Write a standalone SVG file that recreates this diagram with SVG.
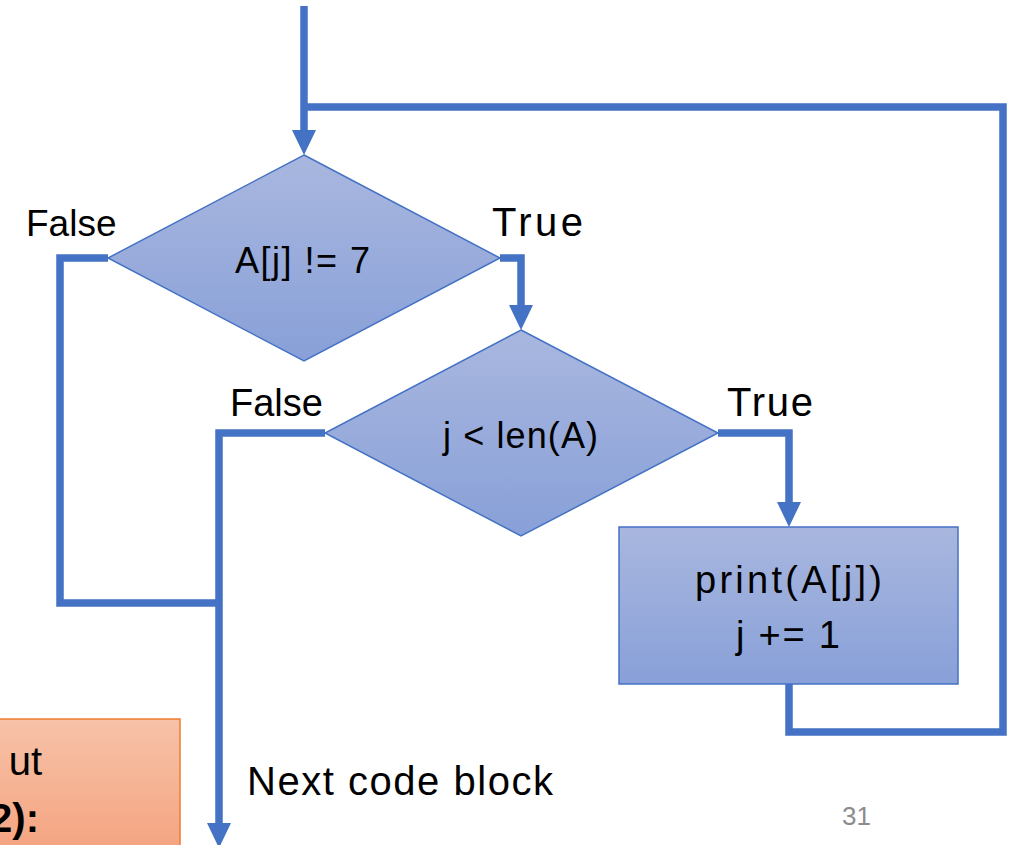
<svg xmlns="http://www.w3.org/2000/svg" width="1012" height="845" viewBox="0 0 1012 845">
<defs>
<linearGradient id="blueGrad" x1="0" y1="0" x2="0" y2="1">
<stop offset="0" stop-color="#a9b7df"/>
<stop offset="1" stop-color="#88a0d8"/>
</linearGradient>
<linearGradient id="orangeGrad" x1="0" y1="0" x2="0" y2="1">
<stop offset="0" stop-color="#f7c2a8"/>
<stop offset="1" stop-color="#f4a27e"/>
</linearGradient>
<marker id="arrow" markerUnits="userSpaceOnUse" viewBox="0 -12 25 24" refX="0" refY="0" markerWidth="25" markerHeight="24" orient="auto">
<path d="M0,-12 L25,0 L0,12 Z" fill="#4472c4"/>
</marker>
</defs>
<style>
.shape{fill:url(#blueGrad);stroke:#4472c4;stroke-width:1.5}
.conn{fill:none;stroke:#4472c4;stroke-width:7.5;stroke-linejoin:miter;stroke-linecap:butt}
.t{font-family:"Liberation Sans",Arial,sans-serif;font-size:40px;fill:#000}
.m{font-size:36px}
.p{font-size:38px}
.pg{font-size:26px;fill:#8c8c8c}
.b{font-weight:bold}
</style>
<rect width="1012" height="845" fill="#ffffff"/>
<g id="connectors">
<path class="conn" d="M304,6 V130" marker-end="url(#arrow)"/>
<path class="conn" d="M789,684 V732 H1003 V107 H304"/>
<path class="conn" d="M500,258 H521 V305" marker-end="url(#arrow)"/>
<path class="conn" d="M108,258 H60 V603 H219"/>
<path class="conn" d="M325,433 H219 V823" marker-end="url(#arrow)"/>
<path class="conn" d="M718,433 H789 V502" marker-end="url(#arrow)"/>
</g>
<g id="output-box">
<rect x="-5" y="719" width="185" height="140" fill="url(#orangeGrad)" stroke="#ed7d31" stroke-width="1.5"/>
<text class="t" x="42" y="775" text-anchor="end">ut</text>
<text class="t b" x="39" y="832" text-anchor="end">2):</text>
</g>
<g id="decision1">
<polygon class="shape" points="304,155 500,258 304,361 108,258"/>
<text class="t m" x="235" y="273" textLength="135" lengthAdjust="spacing">A[j] != 7</text>
</g>
<g id="decision2">
<polygon class="shape" points="521,330 718,433 521,536 325,433"/>
<text class="t m" x="443" y="448" textLength="155" lengthAdjust="spacing">j &lt; len(A)</text>
</g>
<g id="process">
<rect class="shape" x="619" y="527" width="339" height="157"/>
<text class="t p" x="695" y="593" textLength="187" lengthAdjust="spacing">print(A[j])</text>
<text class="t p" x="736" y="648" textLength="104" lengthAdjust="spacing">j += 1</text>
</g>
<g id="labels">
<text class="t" x="26" y="236" style="font-size:37px">False</text>
<text class="t" x="492" y="236" textLength="91" lengthAdjust="spacing">True</text>
<text class="t p" x="230" y="416">False</text>
<text class="t" x="727" y="416" textLength="86" lengthAdjust="spacing">True</text>
<text class="t" x="247" y="795" textLength="306" lengthAdjust="spacing">Next code block</text>
<text class="t pg" x="842" y="825">31</text>
</g>
</svg>
